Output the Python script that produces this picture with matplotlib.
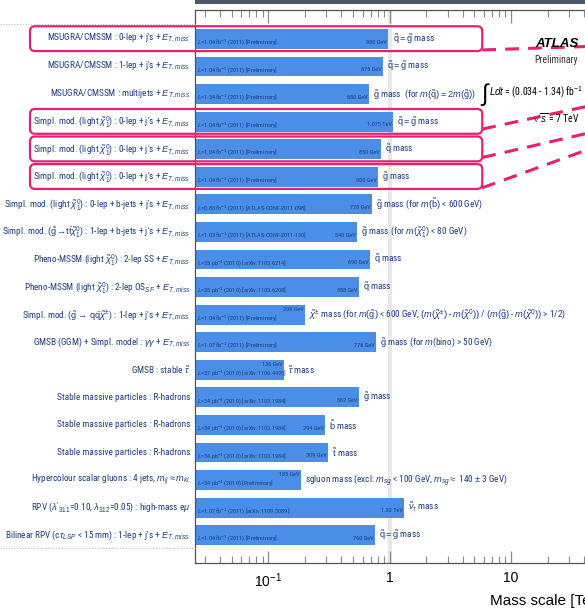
import os
import matplotlib
matplotlib.use("Agg")
import matplotlib.pyplot as plt
from matplotlib import font_manager as fm
from matplotlib.patches import FancyBboxPatch, Rectangle
from matplotlib.lines import Line2D
from matplotlib.transforms import IdentityTransform
from matplotlib.ticker import FixedLocator, LogLocator, NullFormatter

plt.rcParams["font.family"] = ["Liberation Sans", "DejaVu Sans"]
plt.rcParams["mathtext.fontset"] = "custom"
plt.rcParams["mathtext.rm"] = "Liberation Sans"
plt.rcParams["mathtext.it"] = "Liberation Sans:italic"
plt.rcParams["mathtext.bf"] = "Liberation Sans:bold"

# condensed faces, most suitable first
NARROW_FILES = ["notosans-condensed.", "liberationsansnarrow-regular.",
                "arialn.", "robotocondensed-regular.",
                "roboto_condensed-regular.", "opensans-condensed",
                "dejavusanscondensed."]


def narrow_face():
    """Return the font entry of a regular condensed sans face, or None."""
    best = None
    for f in fm.fontManager.ttflist:
        base = os.path.basename(f.fname).lower()
        for rank, key in enumerate(NARROW_FILES):
            if base.startswith(key) and f.style == "normal":
                if best is None or rank < best[0]:
                    best = (rank, f)
    return best[1] if best else None


narrow = narrow_face()
if narrow:
    LABEL = fm.FontProperties(fname=narrow.fname, size=8)
    SMALL = fm.FontProperties(fname=narrow.fname, size=4.5)
    # use the same condensed face inside math text when its family name is unique
    try:
        same = fm.findfont(fm.FontProperties(family=narrow.name),
                           fallback_to_default=False) == narrow.fname
    except ValueError:
        same = False
    if same:
        plt.rcParams["mathtext.rm"] = narrow.name
        it = fm.findfont(fm.FontProperties(family=narrow.name, style="italic"))
        if "italic" in it.lower():
            plt.rcParams["mathtext.it"] = narrow.name + ":italic"
        else:
            plt.rcParams["mathtext.it"] = narrow.name
else:
    LABEL = fm.FontProperties(family="Liberation Sans", size=6.3)
    SMALL = fm.FontProperties(family="Liberation Sans", size=3.8)

# analysis / search channel
channels = [
    r"MSUGRA/CMSSM : 0-lep + j's + $E_{T,miss}$",
    r"MSUGRA/CMSSM : 1-lep + j's + $E_{T,miss}$",
    r"MSUGRA/CMSSM : multijets + $E_{T,miss}$",
    r"Simpl. mod. (light $\tilde{\chi}^0_1$) : 0-lep + j's + $E_{T,miss}$",
    r"Simpl. mod. (light $\tilde{\chi}^0_1$) : 0-lep + j's + $E_{T,miss}$",
    r"Simpl. mod. (light $\tilde{\chi}^0_1$) : 0-lep + j's + $E_{T,miss}$",
    r"Simpl. mod. (light $\tilde{\chi}^0_1$) : 0-lep + b-jets + j's + $E_{T,miss}$",
    r"Simpl. mod. ($\tilde{\mathrm{g}}\!\rightarrow\!\mathrm{t\bar{t}}\tilde{\chi}^0_1$) : 1-lep + b-jets + j's + $E_{T,miss}$",
    r"Pheno-MSSM (light $\tilde{\chi}^0_1$) : 2-lep SS + $E_{T,miss}$",
    r"Pheno-MSSM (light $\tilde{\chi}^0_1$) : 2-lep OS$_{SF}$ + $E_{T,miss}$",
    r"Simpl. mod. ($\tilde{\mathrm{g}}\rightarrow\,\mathrm{q\bar{q}}\tilde{\chi}^{\pm}$) : 1-lep + j's + $E_{T,miss}$",
    r"GMSB (GGM) + Simpl. model : $\gamma\gamma$ + $E_{T,miss}$",
    r"GMSB : stable $\tilde{\tau}$",
    r"Stable massive particles : R-hadrons",
    r"Stable massive particles : R-hadrons",
    r"Stable massive particles : R-hadrons",
    r"Hypercolour scalar gluons : 4 jets, $m_{ij}\approx m_{kl}$",
    r"RPV ($\lambda'_{311}$=0.10, $\lambda_{312}$=0.05) : high-mass e$\mu$",
    r"Bilinear RPV (c$\tau_{LSP}$ < 15 mm) : 1-lep + j's + $E_{T,miss}$",
]

# luminosity / reference
lumi = [
    r"$L$=1.04 fb$^{-1}$ (2011) [Preliminary]",
    r"$L$=1.04 fb$^{-1}$ (2011) [Preliminary]",
    r"$L$=1.34 fb$^{-1}$ (2011) [Preliminary]",
    r"$L$=1.04 fb$^{-1}$ (2011) [Preliminary]",
    r"$L$=1.04 fb$^{-1}$ (2011) [Preliminary]",
    r"$L$=1.04 fb$^{-1}$ (2011) [Preliminary]",
    r"$L$=0.83 fb$^{-1}$ (2011) [ATLAS-CONF-2011-098]",
    r"$L$=1.03 fb$^{-1}$ (2011) [ATLAS-CONF-2011-130]",
    r"$L$=35 pb$^{-1}$ (2010) [arXiv:1103.6214]",
    r"$L$=35 pb$^{-1}$ (2010) [arXiv:1103.6208]",
    r"$L$=1.04 fb$^{-1}$ (2011) [Preliminary]",
    r"$L$=1.07 fb$^{-1}$ (2011) [Preliminary]",
    r"$L$=37 pb$^{-1}$ (2010) [arXiv:1106.4495]",
    r"$L$=34 pb$^{-1}$ (2010) [arXiv:1103.1984]",
    r"$L$=34 pb$^{-1}$ (2010) [arXiv:1103.1984]",
    r"$L$=34 pb$^{-1}$ (2010) [arXiv:1103.1984]",
    r"$L$=34 pb$^{-1}$ (2010) [Preliminary]",
    r"$L$=1.07 fb$^{-1}$ (2011) [arXiv:1109.3089]",
    r"$L$=1.04 fb$^{-1}$ (2011) [Preliminary]",
]

# excluded mass limit in TeV
limits = [0.98, 0.875, 0.68, 1.075, 0.85, 0.80, 0.72, 0.54, 0.69, 0.558,
          0.20, 0.776, 0.136, 0.562, 0.294, 0.309, 0.185, 1.32, 0.76]

sq_eq_gl = r"$\tilde{\mathrm{q}} = \tilde{\mathrm{g}}$ mass"
particle = [
    sq_eq_gl,
    sq_eq_gl,
    r"$\tilde{\mathrm{g}}$ mass  (for $m(\tilde{\mathrm{q}}) = 2m(\tilde{\mathrm{g}})$)",
    sq_eq_gl,
    r"$\tilde{\mathrm{q}}$ mass",
    r"$\tilde{\mathrm{g}}$ mass",
    r"$\tilde{\mathrm{g}}$ mass (for $m(\tilde{\mathrm{b}})$ < 600 GeV)",
    r"$\tilde{\mathrm{g}}$ mass (for $m(\tilde{\chi}^0_1)$ < 80 GeV)",
    r"$\tilde{\mathrm{q}}$ mass",
    r"$\tilde{\mathrm{q}}$ mass",
    r"$\tilde{\chi}^{\pm}$ mass (for $m(\tilde{\mathrm{g}})$ < 600 GeV, $(m(\tilde{\chi}^{\pm})$ - $m(\tilde{\chi}^0))$ / $(m(\tilde{\mathrm{g}})$ - $m(\tilde{\chi}^0))$ > 1/2)",
    r"$\tilde{\mathrm{g}}$ mass (for $m$(bino) > 50 GeV)",
    r"$\tilde{\tau}$ mass",
    r"$\tilde{\mathrm{g}}$ mass",
    r"$\tilde{\mathrm{b}}$ mass",
    r"$\tilde{\mathrm{t}}$ mass",
    r"sgluon mass (excl: $m_{sg}$ < 100 GeV, $m_{sg}\approx$ 140 $\pm$ 3 GeV)",
    r"$\tilde{\nu}_{\tau}$ mass",
    sq_eq_gl,
]

# rows highlighted with a box
highlighted = [0, 3, 4, 5]

BAR = "#4a8ee8"
NAVY = "#1f3c80"
PINK = "#e8206e"
XMIN, XMAX = 0.025, 60

W, H, DPI = 585, 609, 100
fig = plt.figure(figsize=(W / DPI, H / DPI), dpi=DPI)
ax = fig.add_axes([195 / W, 1 - 563 / H, 410.5 / W, 553 / H])

rows = list(range(len(limits)))
ax.set_xscale("log")
ax.set_xlim(XMIN, XMAX)
ax.set_ylim(len(limits) + 0.01, -1.05)

ax.axvline(1, color="#e8e8e8", lw=3, zorder=0)
ax.barh(rows, [v - XMIN for v in limits], left=XMIN, height=0.72,
        color=BAR, edgecolor="none", zorder=2)

name_texts, mass_texts = [], []
for i, v in enumerate(limits):
    val = f"{v * 1000:.0f} GeV" if v < 1 else f"{v:g} TeV"
    short = v < 0.25
    ax.text(XMIN * 1.03, i + 0.12, lumi[i], fontproperties=SMALL, color=NAVY,
            va="center", ha="left", zorder=3)
    ax.text(v * 0.975, i - 0.2 if short else i + 0.12, val,
            fontproperties=SMALL, color=NAVY, va="center", ha="right",
            zorder=3)
    mass_texts.append(ax.text(v * 1.08, i, particle[i], fontproperties=LABEL,
                              color=NAVY, va="center", ha="left", zorder=3))
    name_texts.append(ax.text(-0.012, i, channels[i], fontproperties=LABEL,
                              color=NAVY, va="center", ha="right",
                              transform=ax.get_yaxis_transform()))

# shrink the channel names so the longest one fits the label column
fig.canvas.draw()
renderer = fig.canvas.get_renderer()
widest = max(t.get_window_extent(renderer).width for t in name_texts)
scale = min(1.0, 189 / widest)
for t in name_texts + mass_texts:
    t.set_fontsize(t.get_fontsize() * scale)

ax.xaxis.set_major_locator(FixedLocator([0.1, 1, 10]))
ax.set_xticklabels([r"$10^{-1}$", "1", "10"], fontsize=10)
ax.xaxis.set_minor_locator(LogLocator(base=10, subs=range(2, 10)))
ax.xaxis.set_minor_formatter(NullFormatter())
ax.tick_params(axis="x", which="both", direction="in", top=True,
               color="#8a8a8a", pad=6)
ax.tick_params(axis="x", which="major", length=9, width=0.9)
ax.tick_params(axis="x", which="minor", length=5, width=0.8)
ax.tick_params(axis="y", left=False, labelleft=False)
for s in ["left", "bottom", "top"]:
    ax.spines[s].set_color("#555555")
    ax.spines[s].set_linewidth(0.9)
ax.spines["right"].set_visible(False)
ax.set_xlabel("Mass scale [TeV]", loc="right", fontsize=11, labelpad=3)

# dotted separators in the label column
for yf in (1 - 24 / H, 1 - 548 / H):
    fig.add_artist(Line2D([0, 195 / W], [yf, yf], color="#bdbdbd", lw=0.8,
                          ls=(0, (1, 1.5))))

# title band above the frame
fig.add_artist(Rectangle((195 / W, 1 - 3.5 / H), 1, 3.5 / H,
                         color="#4b586a", lw=0))

# highlight boxes around the 0-lepton rows
box_right = 5.8
for i in highlighted:
    x1, yt = ax.transData.transform((box_right, i - 0.46))
    _, yb = ax.transData.transform((box_right, i + 0.44))
    fig.add_artist(FancyBboxPatch((30, yb), x1 - 30, yt - yb,
                                  boxstyle="round,pad=0,rounding_size=5",
                                  transform=IdentityTransform(),
                                  fc="none", ec=PINK, lw=1.6, zorder=5))

# dashed pointers leading off to the right
pointer_start = [0.4, 0.27, 0.3, 0.4]
pointer_end = [0.25, 2.3, 3.27, 3.78]
for i, s, e in zip(highlighted, pointer_start, pointer_end):
    ax.plot([box_right, XMAX], [i + s, e], color=PINK, lw=2.2,
            ls=(0, (4.5, 3)), clip_on=False, zorder=4)

NOTE = LABEL.copy()
NOTE.set_size(7)
fig.text(557 / W, 1 - 44 / H, "ATLAS", fontsize=9.5, fontweight="bold",
         fontstyle="italic", ha="center", va="center", color="black",
         zorder=6)
fig.text(556 / W, 1 - 60 / H, "Preliminary", fontproperties=NOTE,
         ha="center", va="center", color="#333333", zorder=6)
fig.text(480 / W, 1 - 94 / H, r"$\int$", fontsize=17, ha="left",
         va="center", color="black")
fig.text(489 / W, 1 - 92 / H, r"$Ldt$ = (0.034 - 1.34) fb$^{-1}$",
         fontproperties=NOTE, ha="left", va="center", color="black")
fig.text(556 / W, 1 - 118 / H, r"$\sqrt{s}$ = 7 TeV", fontproperties=NOTE,
         ha="center", va="center", color="black")

fig.savefig("out.png", dpi=DPI)
